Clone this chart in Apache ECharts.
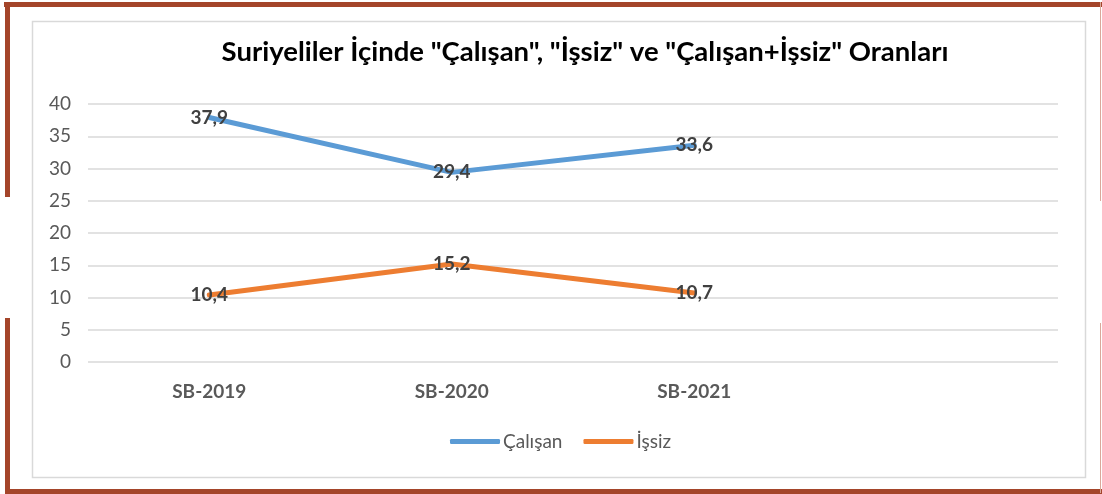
<!DOCTYPE html>
<html>
<head>
<meta charset="utf-8">
<script src="https://cdn.jsdelivr.net/npm/echarts@6/dist/echarts.min.js"></script>
<style>
  html, body { margin: 0; padding: 0; background: #fff; }
  #chart { width: 1102px; height: 494px; }
</style>
</head>
<body>
<div id="chart"></div>
<script>
// data
const categories = ['SB-2019', 'SB-2020', 'SB-2021', ''];
const calisan = [37.9, 29.4, 33.6];
const issiz = [10.4, 15.2, 10.7];
const seriesNames = ['Çalışan', 'İşsiz'];
const yTicks = { min: 0, max: 40, step: 5 };

const FONT = 'Lato, "Open Sans", sans-serif';
const BROWN = '#A4452A';

const chart = echarts.init(document.getElementById('chart'));

function makeSeries(name, values, color) {
    return {
        name: name,
        type: 'line',
        data: values,
        symbol: 'circle',
        symbolSize: 1,
        itemStyle: { color: color },
        lineStyle: { color: color, width: 5, cap: 'round' },
        label: {
            show: true,
            position: 'inside',
            formatter: p => String(p.value).replace('.', ','),
            fontFamily: FONT,
            fontWeight: 'bold',
            fontSize: 19,
            color: '#404040'
        },
        emphasis: { disabled: true }
    };
}

const option = {
    animation: false,
    backgroundColor: '#fff',
    title: {
        text: 'Suriyeliler İçinde "Çalışan", "İşsiz" ve "Çalışan+İşsiz" Oranları',
        left: 580,
        textAlign: 'center',
        top: 33,
        textStyle: { fontFamily: FONT, fontWeight: 'bold', fontSize: 27.5, color: '#000' }
    },
    legend: {
        data: seriesNames,
        left: 445,
        top: 427,
        icon: 'roundRect',
        itemWidth: 50,
        itemHeight: 5,
        itemGap: 21,
        textStyle: { fontFamily: FONT, fontSize: 19, color: '#595959', padding: [0, 0, 0, -2] }
    },
    grid: { left: 88, right: 44, top: 104, bottom: 132 },
    xAxis: {
        type: 'category',
        data: categories,
        boundaryGap: true,
        axisLine: { show: false },
        axisTick: { show: false },
        axisLabel: { fontFamily: FONT, fontWeight: 'bold', fontSize: 19, color: '#595959', margin: 20 }
    },
    yAxis: {
        type: 'value',
        min: yTicks.min,
        max: yTicks.max,
        interval: yTicks.step,
        axisLine: { show: false },
        axisTick: { show: false },
        axisLabel: { fontFamily: FONT, fontSize: 19, color: '#595959', margin: 17 },
        splitLine: { lineStyle: { color: '#D9D9D9', width: 1.5 } }
    },
    series: [
        makeSeries(seriesNames[0], calisan, '#5B9BD5'),
        makeSeries(seriesNames[1], issiz, '#ED7D31')
    ],
    graphic: [
        // inner chart border
        { type: 'rect', shape: { x: 32.5, y: 21.5, width: 1053, height: 456 }, style: { fill: null, stroke: '#D9D9D9', lineWidth: 1.5 }, silent: true },
        // brown frame pieces
        { type: 'rect', shape: { x: 4, y: 2, width: 1098, height: 5 }, style: { fill: BROWN }, silent: true },
        { type: 'rect', shape: { x: 5, y: 2, width: 5, height: 195 }, style: { fill: BROWN }, silent: true },
        { type: 'rect', shape: { x: 5, y: 318, width: 5, height: 176 }, style: { fill: BROWN }, silent: true },
        { type: 'rect', shape: { x: 5, y: 489, width: 1097, height: 5 }, style: { fill: BROWN }, silent: true },
        { type: 'rect', shape: { x: 1100, y: 2, width: 1, height: 199 }, style: { fill: '#D9A89A' }, silent: true },
        { type: 'rect', shape: { x: 1100, y: 323, width: 1, height: 170 }, style: { fill: '#D9A89A' }, silent: true }
    ]
};

chart.setOption(option);
</script>
</body>
</html>
